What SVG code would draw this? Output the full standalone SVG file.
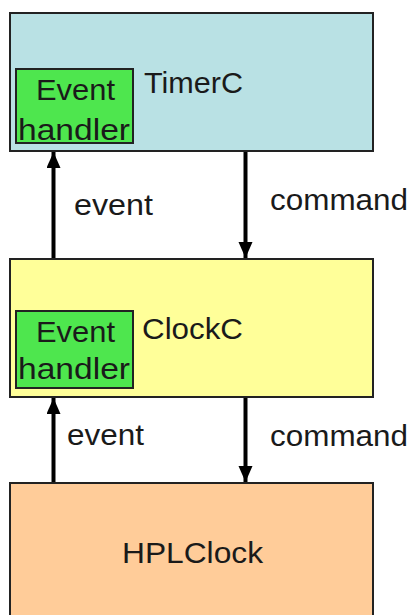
<svg xmlns="http://www.w3.org/2000/svg" width="410" height="615" viewBox="0 0 410 615">
<defs>
<marker id="ah" markerUnits="userSpaceOnUse" markerWidth="14" markerHeight="18" refX="16" refY="7" orient="auto">
<path d="M0,0 L16,7 L0,14 Z" fill="#000"/>
</marker>
</defs>
<style>
text{font-family:"Liberation Sans",Arial,sans-serif;font-size:30px;fill:#1a1a1a}
.box{stroke:#222;stroke-width:2}
.eh{fill:#4ee64e;stroke:#222;stroke-width:2}
.c{stroke:#000;stroke-width:4;fill:none;marker-end:url(#ah)}
</style>
<rect width="410" height="615" fill="#fff"/>
<g id="timerc">
<rect class="box" x="10" y="13" width="363" height="138" fill="#b9e1e4"/>
<text x="144" y="93" textLength="99" lengthAdjust="spacingAndGlyphs">TimerC</text>
</g>
<g id="timerc-handler">
<rect class="eh" x="16" y="69" width="117" height="74"/>
<text x="36" y="100" textLength="79" lengthAdjust="spacingAndGlyphs">Event</text>
<text x="18" y="140" textLength="112" lengthAdjust="spacingAndGlyphs">handler</text>
</g>
<g id="clockc">
<rect class="box" x="10" y="259" width="363" height="138" fill="#ffff99"/>
<text x="142" y="339" textLength="101" lengthAdjust="spacingAndGlyphs">ClockC</text>
</g>
<g id="clockc-handler">
<rect class="eh" x="16" y="311" width="117" height="77"/>
<text x="36" y="342" textLength="79" lengthAdjust="spacingAndGlyphs">Event</text>
<text x="18" y="379" textLength="112" lengthAdjust="spacingAndGlyphs">handler</text>
</g>
<g id="hplclock">
<rect class="box" x="10" y="483" width="363" height="140" fill="#ffcc99"/>
<text x="122" y="563" textLength="141" lengthAdjust="spacingAndGlyphs">HPLClock</text>
</g>
<g id="connectors">
<line class="c" x1="53.5" y1="258" x2="53.5" y2="152"/>
<line class="c" x1="245.5" y1="152" x2="245.5" y2="258"/>
<line class="c" x1="53.5" y1="482" x2="53.5" y2="398"/>
<line class="c" x1="245.5" y1="398" x2="245.5" y2="482"/>
<text x="74" y="215" textLength="79" lengthAdjust="spacingAndGlyphs">event</text>
<text x="270" y="210" textLength="138" lengthAdjust="spacingAndGlyphs">command</text>
<text x="67" y="445" textLength="77" lengthAdjust="spacingAndGlyphs">event</text>
<text x="270" y="446" textLength="138" lengthAdjust="spacingAndGlyphs">command</text>
</g>
</svg>
